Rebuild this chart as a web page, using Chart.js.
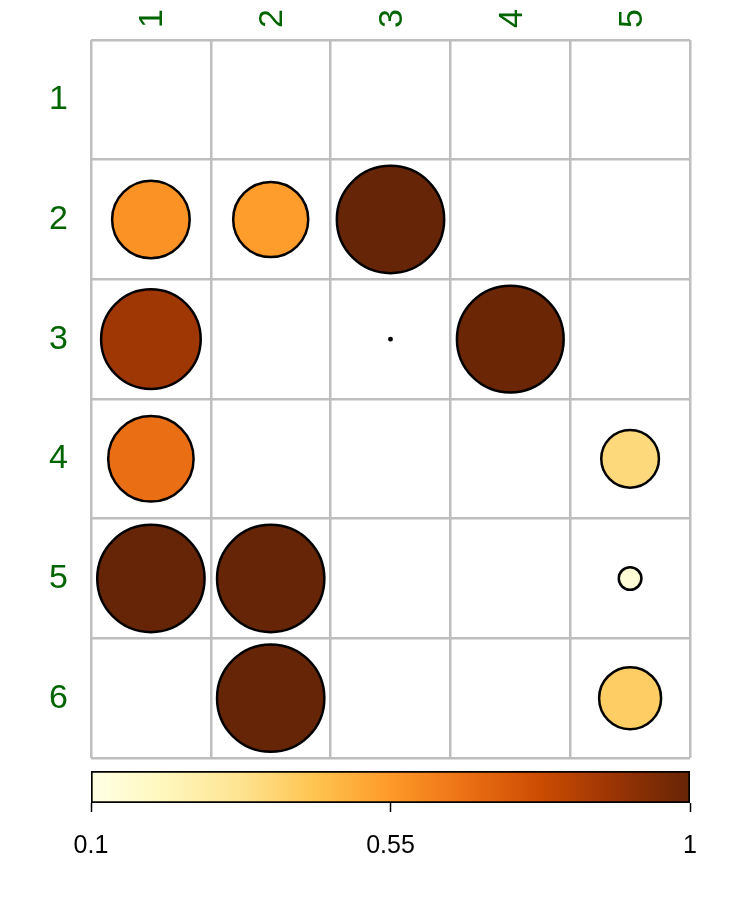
<!DOCTYPE html>
<html>
<head>
<meta charset="utf-8">
<script src="https://cdn.jsdelivr.net/npm/chart.js@4.4.1/dist/chart.umd.min.js"></script>
<style>
  html, body { margin: 0; padding: 0; background: #ffffff; }
  #wrap { position: relative; width: 750px; height: 900px; background: #ffffff; }
  #main { position: absolute; left: 0; top: 0; }
  #bar { position: absolute; left: 0; top: 760px; }
</style>
</head>
<body>
<div id="wrap">
  <canvas id="main" width="750" height="765"></canvas>
  <canvas id="bar" width="750" height="140"></canvas>
</div>
<script>
// ---- data ----
const rowLabels = ['1', '2', '3', '4', '5', '6'];
const colLabels = ['1', '2', '3', '4', '5'];
const cellRow   = [2, 2, 2, 3, 3, 3, 4, 4, 5, 5, 5, 6, 6];
const cellCol   = [1, 2, 3, 1, 3, 4, 1, 5, 1, 2, 5, 2, 5];
const cellValue = [0.57, 0.54, 1.0, 0.875, 0.10, 0.99, 0.67, 0.36, 1.0, 1.0, 0.14, 1.0, 0.40];
const colorLimits = [0.1, 1];
const colorbarTicks = [0.1, 0.55, 1];
const palette = ['#FFFFE5', '#FFF7BC', '#FEE391', '#FEC44F', '#FE9929', '#EC7014', '#CC4C02', '#993404', '#662506'];

// ---- helpers ----
function hexToRgb(h) {
  return [parseInt(h.slice(1, 3), 16), parseInt(h.slice(3, 5), 16), parseInt(h.slice(5, 7), 16)];
}
function scaled(v) {
  const t = (v - colorLimits[0]) / (colorLimits[1] - colorLimits[0]);
  return Math.max(0, Math.min(1, t));
}
function colorFor(v) {
  const pos = scaled(v) * (palette.length - 1);
  const i = Math.min(Math.floor(pos), palette.length - 2);
  const f = pos - i;
  const a = hexToRgb(palette[i]), b = hexToRgb(palette[i + 1]);
  const c = a.map((x, k) => Math.round(x + (b[k] - x) * f));
  return 'rgb(' + c.join(',') + ')';
}

const points = cellValue.map((v, i) => ({ x: colLabels[cellCol[i] - 1], y: rowLabels[cellRow[i] - 1], v: v, r: 1 }));

const GRID = '#BEBEBE';
const LABEL_GREEN = '#006400';
const FONT = '"Liberation Sans", Arial, Helvetica, sans-serif';

const main = new Chart(document.getElementById('main'), {
  type: 'bubble',
  data: {
    datasets: [{
      data: points,
      backgroundColor: cellValue.map(colorFor),
      borderColor: '#000000',
      borderWidth: 2.5,
      clip: false
    }]
  },
  options: {
    responsive: false,
    animation: false,
    events: [],
    layout: { autoPadding: false, padding: { left: 0, right: 60, top: 0, bottom: 7 } },
    plugins: { legend: { display: false }, tooltip: { enabled: false } },
    scales: {
      x: {
        type: 'category',
        labels: colLabels,
        position: 'top',
        offset: true,
        afterFit: s => { s.height = 40; s.paddingLeft = 0; s.paddingRight = 0; },
        grid: { offset: true, color: GRID, lineWidth: 2.5, drawTicks: false },
        border: { display: false },
        ticks: {
          autoSkip: false, minRotation: 90, maxRotation: 90,
          padding: 12, labelOffset: 43, color: LABEL_GREEN,
          font: { family: FONT, size: 34 }
        }
      },
      y: {
        type: 'category',
        labels: rowLabels,
        position: 'left',
        offset: true,
        afterFit: s => { s.width = 91; s.paddingTop = 0; s.paddingBottom = 0; },
        grid: { offset: true, color: GRID, lineWidth: 2.5, drawTicks: false },
        border: { display: false },
        ticks: {
          autoSkip: false, padding: 23, color: LABEL_GREEN,
          font: { family: FONT, size: 34 }
        }
      }
    }
  }
});

// circle radius from the laid-out category scale: sqrt of the scaled value, ~0.45 of a cell
(function () {
  const xs = main.scales.x;
  const cellW = Math.abs(xs.getPixelForValue(1) - xs.getPixelForValue(0));
  points.forEach(p => { p.r = Math.max(Math.sqrt(scaled(p.v)) * 0.448 * cellW, 1.2); });
  main.update();
})();

// ---- colour bar ----
new Chart(document.getElementById('bar'), {
  type: 'bar',
  data: {
    labels: [''],
    datasets: [{
      data: [[colorLimits[0], colorLimits[1]]],
      backgroundColor: ctx => {
        const chart = ctx.chart;
        const xs = chart.scales.x;
        if (!chart.chartArea || !xs) return palette[4];
        const x0 = xs.getPixelForValue(colorLimits[0]);
        const x1 = xs.getPixelForValue(colorLimits[1]);
        const g = chart.ctx.createLinearGradient(x0, 0, x1, 0);
        palette.forEach((c, i) => g.addColorStop(i / (palette.length - 1), c));
        return g;
      },
      borderColor: '#000000',
      borderWidth: 2,
      borderSkipped: false,
      barPercentage: 1,
      categoryPercentage: 1
    }]
  },
  options: {
    indexAxis: 'y',
    responsive: false,
    animation: false,
    events: [],
    layout: { autoPadding: false, padding: { left: 91, right: 60, top: 11, bottom: 0 } },
    plugins: { legend: { display: false }, tooltip: { enabled: false } },
    scales: {
      y: { display: false },
      x: {
        type: 'linear',
        min: colorLimits[0],
        max: colorLimits[1],
        position: 'bottom',
        afterFit: s => { s.height = 97; },
        afterBuildTicks: s => { s.ticks = colorbarTicks.map(v => ({ value: v })); },
        grid: { display: true, drawOnChartArea: false, tickLength: 9, tickColor: '#000000', tickWidth: 1.5 },
        border: { display: false },
        ticks: {
          padding: 19,
          color: '#000000',
          font: { family: FONT, size: 25 },
          callback: v => String(v)
        }
      }
    }
  }
});
</script>
</body>
</html>
